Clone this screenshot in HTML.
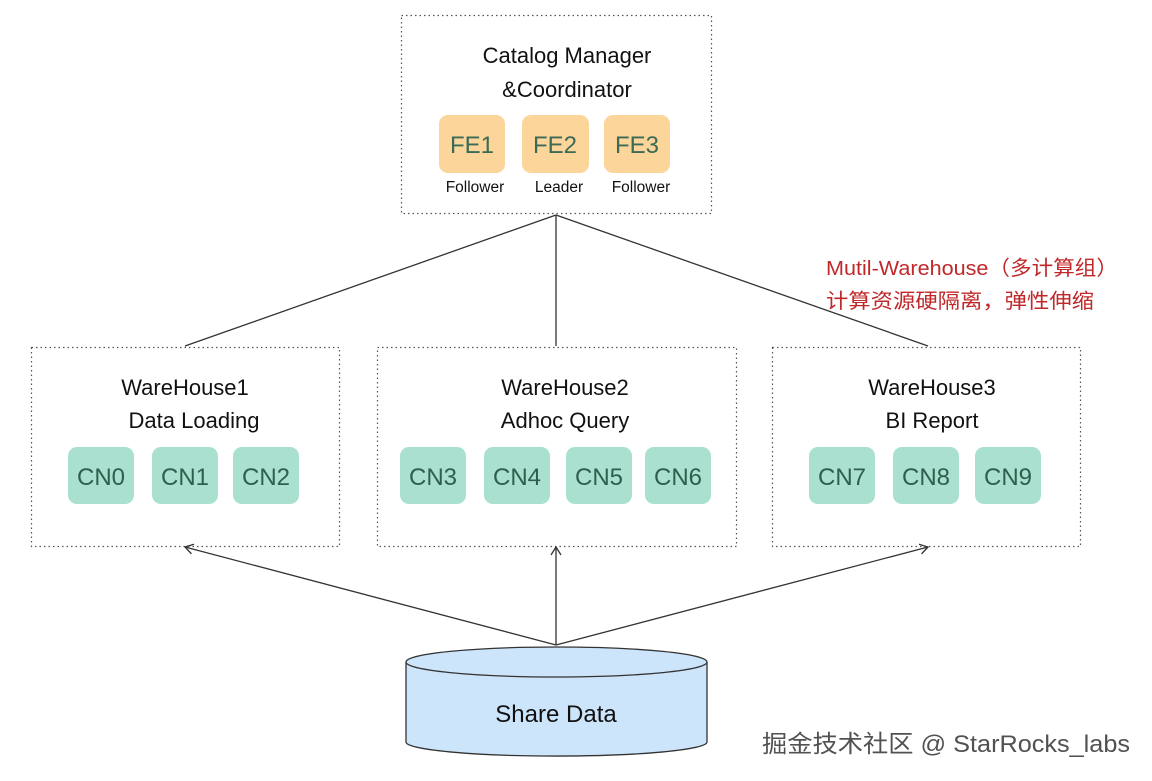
<!DOCTYPE html>
<html><head><meta charset="utf-8"><style>
html,body{margin:0;padding:0;background:#fff;width:1152px;height:781px;overflow:hidden}
svg{display:block}
text{font-family:"Liberation Sans","Noto Sans CJK SC",sans-serif}
</style></head><body>
<svg width="1152" height="781" viewBox="0 0 1152 781" xmlns="http://www.w3.org/2000/svg">
<defs><marker id="a" markerWidth="12" markerHeight="12" refX="10" refY="6" orient="auto" markerUnits="userSpaceOnUse"><path d="M2,1 L10,6 L2,11" fill="none" stroke="#333" stroke-width="1.3"/></marker></defs>
<g fill="none" stroke="#555" stroke-width="1.2" stroke-dasharray="1.5,3">
<rect x="401.5" y="15.5" width="310" height="198"/>
<rect x="31.5" y="347.5" width="308" height="199"/>
<rect x="377.5" y="347.5" width="359" height="199"/>
<rect x="772.5" y="347.5" width="308" height="199"/>
</g>
<g stroke="#333" stroke-width="1.3" fill="none">
<line x1="556" y1="215" x2="185" y2="346"/>
<line x1="556" y1="215" x2="556" y2="346"/>
<line x1="556" y1="215" x2="928" y2="346"/>
<line x1="556" y1="645" x2="185" y2="547" marker-end="url(#a)"/>
<line x1="556" y1="645" x2="556" y2="547" marker-end="url(#a)"/>
<line x1="556" y1="645" x2="928" y2="547" marker-end="url(#a)"/>
</g>
<g font-size="22" fill="#111" text-anchor="middle">
<text x="567" y="63">Catalog Manager</text>
<text x="567" y="97">&amp;Coordinator</text>
<text x="185" y="395">WareHouse1</text>
<text x="194" y="428">Data Loading</text>
<text x="565" y="395">WareHouse2</text>
<text x="565" y="428">Adhoc Query</text>
<text x="932" y="395">WareHouse3</text>
<text x="932" y="428">BI Report</text>
</g>
<g fill="#fcd59b">
<rect x="439" y="115" width="66" height="58" rx="9"/>
<rect x="522" y="115" width="67" height="58" rx="9"/>
<rect x="604" y="115" width="66" height="58" rx="9"/>
</g>
<g font-size="24" fill="#3b6a55" text-anchor="middle">
<text x="472" y="153">FE1</text><text x="555" y="153">FE2</text><text x="637" y="153">FE3</text>
</g>
<g font-size="15.5" fill="#111" text-anchor="middle">
<text x="475" y="192">Follower</text><text x="559" y="192">Leader</text><text x="641" y="192">Follower</text>
</g>
<g fill="#a9e0cf">
<rect x="68" y="447" width="66" height="57" rx="9"/>
<rect x="152" y="447" width="66" height="57" rx="9"/>
<rect x="233" y="447" width="66" height="57" rx="9"/>
<rect x="400" y="447" width="66" height="57" rx="9"/>
<rect x="484" y="447" width="66" height="57" rx="9"/>
<rect x="566" y="447" width="66" height="57" rx="9"/>
<rect x="645" y="447" width="66" height="57" rx="9"/>
<rect x="809" y="447" width="66" height="57" rx="9"/>
<rect x="893" y="447" width="66" height="57" rx="9"/>
<rect x="975" y="447" width="66" height="57" rx="9"/>
</g>
<g font-size="24" fill="#2f5e4e" text-anchor="middle">
<text x="101" y="485">CN0</text><text x="185" y="485">CN1</text><text x="266" y="485">CN2</text>
<text x="433" y="485">CN3</text><text x="517" y="485">CN4</text><text x="599" y="485">CN5</text><text x="678" y="485">CN6</text>
<text x="842" y="485">CN7</text><text x="926" y="485">CN8</text><text x="1008" y="485">CN9</text>
</g>
<g font-size="20.5" fill="#c0282a">
<text x="826" y="275" textLength="292" lengthAdjust="spacingAndGlyphs">Mutil-Warehouse（多计算组）</text>
<text x="826" y="308" textLength="268" lengthAdjust="spacingAndGlyphs">计算资源硬隔离，弹性伸缩</text>
</g>
<path d="M406,662 L406,742 A150,14 0 0 0 707,742 L707,662" fill="#cde5fb" stroke="#333" stroke-width="1.3"/>
<ellipse cx="556.5" cy="662" rx="150.5" ry="15" fill="#cde5fb" stroke="#333" stroke-width="1.3"/>
<text x="556" y="722" font-size="24" fill="#111" text-anchor="middle">Share Data</text>
<text x="1130" y="752" font-size="24" fill="#333" text-anchor="end" textLength="368" lengthAdjust="spacingAndGlyphs" opacity="0.85">掘金技术社区 @ StarRocks_labs</text>
</svg>
</body></html>
